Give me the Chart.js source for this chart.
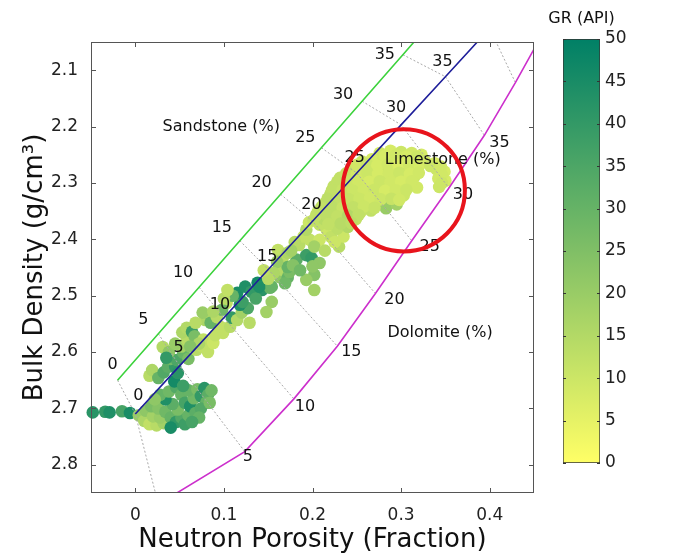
<!DOCTYPE html>
<html><head><meta charset="utf-8">
<script src="https://cdn.jsdelivr.net/npm/chart.js@4"></script>
<style>
html,body{margin:0;padding:0;background:#fff;}
#wrap{position:relative;width:698px;height:558px;overflow:hidden;}
#main{position:absolute;left:0;top:0;}
#cbar{position:absolute;left:540px;top:0;}
</style></head><body>
<div id="wrap">
<canvas id="main" width="698" height="558"></canvas>
<canvas id="cbar" width="158" height="558"></canvas>
</div>
<script>
// ---------- axis ticks ----------
const xTickValues = [0, 0.1, 0.2, 0.3, 0.4];
const xTickLabels = ['0', '0.1', '0.2', '0.3', '0.4'];
const yTickValues = [2.1, 2.2, 2.3, 2.4, 2.5, 2.6, 2.7, 2.8];
const yTickLabels = ['2.1', '2.2', '2.3', '2.4', '2.5', '2.6', '2.7', '2.8'];
const grMin = 0, grMax = 50;

// ---------- lithology lines (porosity 0..40 %) ----------
const porosityLabels = ['0', '5', '10', '15', '20', '25', '30', '35', '40'];
const sandNphi = [-0.020, 0.026, 0.072, 0.118, 0.164, 0.210, 0.256, 0.302, 0.348];
const sandRhob = [2.650, 2.5675, 2.485, 2.4025, 2.320, 2.2375, 2.155, 2.0725, 1.990];
const limeNphi = [0.000, 0.050, 0.100, 0.150, 0.200, 0.250, 0.300, 0.350, 0.400];
const limeRhob = [2.710, 2.6245, 2.539, 2.4535, 2.368, 2.2825, 2.197, 2.1115, 2.026];
const dolNphi = [0.026, 0.1236, 0.179, 0.228, 0.271, 0.312, 0.354, 0.394, 0.429, 0.462];
const dolRhob = [2.870, 2.7765, 2.683, 2.5895, 2.496, 2.4025, 2.309, 2.2155, 2.122, 2.0285];

const lithoNames = ['Sandstone (%)', 'Limestone (%)', 'Dolomite (%)'];
const lithoNameX = [0.097, 0.347, 0.344];
const lithoNameY = [2.201, 2.259, 2.566];

const circleX = 0.303, circleY = 2.313, circleR = 0.069;

// ---------- well data: [NPHI, RHOB, GR] ----------
const rowPts = [[-0.048,2.707,42],[-0.034,2.706,40],[-0.029,2.707,44],[-0.015,2.705,36],[-0.006,2.708,45]];
const basePts = [
 [0.004,2.712,20],[0.010,2.722,16],[0.016,2.728,12],[0.024,2.730,14],[0.032,2.726,18],
 [0.012,2.704,22],[0.020,2.714,18],[0.028,2.716,20],[0.018,2.696,26],[0.026,2.700,24],
 [0.034,2.706,28],[0.040,2.716,30],[0.046,2.724,40],[0.040,2.734,45],[0.052,2.716,34],
 [0.056,2.728,38],[0.060,2.712,30],[0.048,2.702,26],[0.042,2.692,32],[0.034,2.684,44],
 [0.028,2.676,30],[0.022,2.684,22],[0.038,2.670,28],[0.046,2.662,34],[0.044,2.652,46],
 [0.052,2.676,30],[0.056,2.690,36],[0.062,2.696,44],[0.068,2.708,32],[0.066,2.682,28],
 [0.060,2.668,30],[0.070,2.666,26],[0.074,2.678,40],[0.078,2.664,42],[0.082,2.676,32],
 [0.086,2.668,28],[0.080,2.690,30],[0.074,2.700,34],[0.072,2.716,30],[0.064,2.724,36],
 [0.054,2.660,38],[0.084,2.690,26],[0.016,2.642,14]
];
const lowerBandPts = [
 [0.019,2.632,16],[0.026,2.646,30],[0.032,2.636,34],[0.037,2.626,32],[0.045,2.626,40],
 [0.048,2.637,42],[0.040,2.612,28],[0.047,2.614,35],[0.031,2.591,15],[0.038,2.600,22],
 [0.054,2.601,30],[0.060,2.612,26],[0.052,2.590,18],[0.058,2.578,14],[0.053,2.565,16],
 [0.058,2.557,15],[0.064,2.564,38],[0.067,2.572,26],[0.069,2.596,14],[0.076,2.590,12],
 [0.082,2.600,12],[0.077,2.578,12],[0.072,2.585,16],[0.088,2.584,10],[0.090,2.570,12],
 [0.099,2.566,12],[0.096,2.555,12],[0.107,2.555,14],[0.079,2.543,16],[0.076,2.530,20],
 [0.085,2.548,30],[0.092,2.538,14],[0.103,2.513,12],[0.109,2.539,40],[0.115,2.543,15],
 [0.129,2.548,14],[0.120,2.530,18],[0.127,2.522,35],[0.118,2.516,44],[0.121,2.511,38],
 [0.115,2.495,45],[0.124,2.484,44],[0.131,2.493,40],[0.138,2.477,46],[0.143,2.490,42],
 [0.136,2.505,36],[0.152,2.486,30],[0.154,2.511,20],[0.148,2.529,18],[0.163,2.467,22],
 [0.166,2.454,15],[0.110,2.500,30],[0.098,2.525,28],[0.088,2.528,16],[0.068,2.548,14],
 [0.045,2.585,20],[0.035,2.610,40],[0.062,2.590,24],[0.100,2.505,14],[0.104,2.490,12]
];
const upperBandPts = [
 [0.140,2.484,44],[0.154,2.484,30],[0.172,2.468,30],[0.169,2.478,28],[0.182,2.436,32],
 [0.174,2.458,26],[0.193,2.428,38],[0.199,2.433,40],[0.202,2.463,24],[0.208,2.442,22],
 [0.161,2.419,12],[0.166,2.436,14],[0.172,2.424,16],[0.185,2.410,14],[0.197,2.401,12],
 [0.208,2.401,10],[0.216,2.383,10],[0.219,2.366,8],[0.222,2.342,10],[0.208,2.374,12],
 [0.202,2.413,18],[0.172,2.449,30],[0.193,2.472,20],[0.202,2.490,18],[0.160,2.440,20],
 [0.178,2.446,24],[0.186,2.455,28],[0.190,2.395,12],[0.180,2.405,14],[0.176,2.420,18],
 [0.193,2.383,15],[0.200,2.448,22],[0.214,2.420,14],[0.221,2.396,12],[0.230,2.413,14],
 [0.225,2.405,10],[0.235,2.395,10],[0.156,2.460,16],[0.150,2.470,14],[0.145,2.455,12],
 [0.196,2.370,10],[0.205,2.355,12],[0.212,2.340,10]
];
const yellowPts = [
 [0.276,2.247,9],[0.288,2.243,8],[0.300,2.245,10],[0.312,2.247,9],[0.323,2.250,8],
 [0.256,2.262,10],[0.267,2.258,8],[0.279,2.260,9],[0.291,2.258,7],[0.303,2.261,8],
 [0.315,2.259,10],[0.327,2.262,9],[0.338,2.265,8],
 [0.244,2.276,11],[0.256,2.277,9],[0.268,2.274,8],[0.280,2.276,10],[0.292,2.275,8],
 [0.304,2.276,9],[0.316,2.274,7],[0.340,2.276,10],[0.349,2.280,8],
 [0.231,2.291,12],[0.243,2.290,10],[0.255,2.292,9],[0.267,2.290,8],[0.279,2.292,10],
 [0.291,2.289,9],[0.303,2.291,8],[0.315,2.289,10],[0.342,2.292,9],[0.350,2.296,8],
 [0.224,2.306,12],[0.236,2.305,11],[0.248,2.307,9],[0.260,2.305,10],[0.272,2.306,8],
 [0.284,2.304,9],[0.296,2.306,10],[0.308,2.305,8],[0.318,2.308,9],[0.343,2.307,10],
 [0.220,2.321,13],[0.232,2.320,11],[0.244,2.322,10],[0.256,2.320,9],[0.268,2.322,11],
 [0.280,2.320,9],[0.292,2.321,8],[0.303,2.322,10],
 [0.214,2.336,12],[0.226,2.334,14],[0.238,2.336,11],[0.250,2.335,10],[0.262,2.337,12],
 [0.274,2.335,9],[0.286,2.334,10],[0.283,2.345,20],[0.295,2.338,18],
 [0.206,2.351,11],[0.218,2.349,13],[0.230,2.352,12],[0.242,2.350,14],[0.254,2.352,11],
 [0.266,2.349,12],
 [0.201,2.366,12],[0.213,2.364,14],[0.225,2.367,13],[0.237,2.366,16],[0.249,2.364,12],
 [0.228,2.381,13],[0.240,2.378,15]
];
const yellowFillPts = [
 [0.282,2.252,8],[0.294,2.251,9],[0.306,2.253,8],[0.318,2.254,10],
 [0.250,2.268,9],[0.262,2.267,10],[0.273,2.269,8],[0.285,2.267,9],[0.297,2.268,7],
 [0.309,2.267,9],[0.321,2.268,8],[0.333,2.270,10],[0.345,2.271,9],
 [0.238,2.283,11],[0.250,2.284,9],[0.262,2.282,10],[0.274,2.284,8],[0.286,2.283,9],
 [0.298,2.282,10],[0.310,2.284,8],[0.320,2.282,9],[0.346,2.286,9],
 [0.228,2.298,12],[0.240,2.297,10],[0.252,2.299,9],[0.264,2.298,8],[0.276,2.297,10],
 [0.288,2.299,9],[0.300,2.298,8],[0.312,2.297,9],[0.346,2.300,10],
 [0.222,2.313,12],[0.234,2.312,11],[0.246,2.314,10],[0.258,2.313,9],[0.270,2.312,10],
 [0.282,2.314,8],[0.294,2.313,9],[0.306,2.312,10],
 [0.217,2.328,13],[0.229,2.327,12],[0.241,2.329,11],[0.253,2.328,10],[0.265,2.327,9],
 [0.277,2.329,10],[0.289,2.328,11],[0.298,2.330,9],
 [0.210,2.343,12],[0.222,2.342,13],[0.234,2.344,11],[0.246,2.343,12],[0.258,2.342,10],
 [0.270,2.344,11],
 [0.204,2.358,12],[0.216,2.357,13],[0.228,2.359,12],[0.240,2.358,15],[0.252,2.357,12],
 [0.218,2.373,12],[0.232,2.372,14],[0.244,2.371,13]
];

// ---------- helpers ----------
function grColor(v) { // yellow (low GR) -> teal green (high GR)
  const t = Math.max(0, Math.min(1, (v - grMin) / (grMax - grMin)));
  const r = Math.round(255 * (1 - t)), g = Math.round(255 * (1 - 0.5 * t)), b = 102;
  return 'rgb(' + r + ',' + g + ',' + b + ')';
}
const FONT = '"DejaVu Sans", Verdana, sans-serif';
Chart.defaults.font.family = FONT;
Chart.defaults.color = '#111';

const wellPts = [].concat(rowPts, basePts, lowerBandPts, upperBandPts, yellowPts, yellowFillPts);

function lineDs(nx, ry, color, width, dash, order) {
  return { data: nx.map((v, i) => ({ x: v, y: ry[i] })), showLine: true, borderColor: color,
    borderWidth: width, borderDash: dash, pointRadius: 0, fill: false, tension: 0, order: order };
}
const datasets = [{
  data: wellPts.map(p => ({ x: p[0], y: p[1] })),
  pointBackgroundColor: wellPts.map(p => grColor(p[2])),
  pointBorderWidth: 0, pointRadius: 6.3, showLine: false, clip: false, order: 10
}];
for (let i = 0; i < sandNphi.length; i++) {
  datasets.push(lineDs([sandNphi[i], limeNphi[i], dolNphi[i]], [sandRhob[i], limeRhob[i], dolRhob[i]], '#a8a8a8', 1, [2, 2], 3));
}
datasets.push(lineDs(sandNphi, sandRhob, '#3cd23c', 1.6, [], 1));
datasets.push(lineDs(limeNphi, limeRhob, '#1e1e9a', 1.6, [], 1));
datasets.push(lineDs(dolNphi, dolRhob, '#cc2fcc', 1.6, [], 1));

const sandOff = [[-5,-15],[-15,-14],[-16,-14],[-18,-13],[-19,-11],[-16,-10],[-19,-6],[-18,0],[-18,0]];
const limeOff = [[3,-18],[-1,-18],[-4,-13],[-1,-13],[-1,-16],[-2,-15],[-5,-17],[-3,-15],[-3,-15]];
const dolOff = [[3,5],[3,5],[11,8],[14,6],[19,6],[18,6],[14,7],[15,8],[15,8]];

const frameTicks = {
  id: 'frameTicks',
  afterDatasetsDraw(chart) {
    const { ctx, chartArea: a, scales: { x, y } } = chart;
    ctx.save();
    ctx.strokeStyle = '#555'; ctx.lineWidth = 1;
    ctx.strokeRect(a.left + 0.5, a.top + 0.5, a.right - a.left - 1, a.bottom - a.top - 1);
    const L = 5;
    ctx.beginPath();
    x.ticks.forEach(t => { const px = Math.round(x.getPixelForValue(t.value)) + 0.5;
      ctx.moveTo(px, a.bottom); ctx.lineTo(px, a.bottom - L); ctx.moveTo(px, a.top); ctx.lineTo(px, a.top + L); });
    y.ticks.forEach(t => { const py = Math.round(y.getPixelForValue(t.value)) + 0.5;
      ctx.moveTo(a.left, py); ctx.lineTo(a.left + L, py); ctx.moveTo(a.right, py); ctx.lineTo(a.right - L, py); });
    ctx.stroke();
    ctx.restore();
  }
};
const annot = {
  id: 'annot',
  afterDatasetsDraw(chart) {
    const { ctx, chartArea: a, scales: { x, y } } = chart;
    ctx.save();
    ctx.font = '16px ' + FONT; ctx.fillStyle = '#111'; ctx.textAlign = 'center'; ctx.textBaseline = 'middle';
    const put = (nx, ry, txt, off) => {
      const px = x.getPixelForValue(nx) + off[0], py = y.getPixelForValue(ry) + off[1];
      if (px < a.left + 4 || px > a.right - 4 || py < a.top + 6 || py > a.bottom - 6) return;
      ctx.fillText(txt, px, py);
    };
    for (let i = 0; i < 8; i++) {
      put(sandNphi[i], sandRhob[i], porosityLabels[i], sandOff[i]);
      put(limeNphi[i], limeRhob[i], porosityLabels[i], limeOff[i]);
      put(dolNphi[i], dolRhob[i], porosityLabels[i], dolOff[i]);
    }
    lithoNames.forEach((t, i) => put(lithoNameX[i], lithoNameY[i], t, [0, 0]));
    const cx = x.getPixelForValue(circleX), cy = y.getPixelForValue(circleY);
    const r = x.getPixelForValue(circleX + circleR) - cx;
    ctx.beginPath(); ctx.lineWidth = 4; ctx.strokeStyle = '#e8141c';
    ctx.arc(cx, cy, r, 0, 2 * Math.PI); ctx.stroke();
    ctx.restore();
  }
};

new Chart(document.getElementById('main'), {
  type: 'scatter',
  data: { datasets: datasets },
  options: {
    responsive: false, animation: false, events: [],
    layout: { padding: { top: 42, right: 164, left: 0, bottom: 0 } },
    plugins: { legend: { display: false }, tooltip: { enabled: false } },
    scales: {
      x: {
        type: 'linear', min: -0.05, max: 0.45,
        afterBuildTicks: s => { s.ticks = xTickValues.map(v => ({ value: v })); },
        afterFit: s => { s.height = 65; },
        ticks: { padding: 12, color: '#222', font: { size: 17 }, callback: (v, i) => xTickLabels[i] },
        grid: { display: false, drawTicks: false }, border: { display: false },
        title: { display: true, text: 'Neutron Porosity (Fraction)', color: '#111', font: { size: 26 }, padding: { top: 0, bottom: 2 } }
      },
      y: {
        type: 'linear', reverse: true, min: 2.05, max: 2.85,
        afterBuildTicks: s => { s.ticks = yTickValues.map(v => ({ value: v })); },
        afterFit: s => { s.width = 91; },
        ticks: { padding: 13, color: '#222', font: { size: 17 }, callback: (v, i) => yTickLabels[i] },
        grid: { display: false, drawTicks: false }, border: { display: false },
        title: { display: true, text: 'Bulk Density (g/cm³)', color: '#111', font: { size: 26 }, padding: { top: 20, bottom: 0 } }
      }
    }
  },
  plugins: [frameTicks, annot]
});

// ---------- colour bar ----------
const cbarDeco = {
  id: 'cbarDeco',
  afterDraw(chart) {
    const { ctx, chartArea: a, scales: { y } } = chart;
    ctx.save();
    ctx.strokeStyle = '#333'; ctx.lineWidth = 1;
    ctx.beginPath();
    y.ticks.forEach(t => { const py = Math.round(y.getPixelForValue(t.value)) + 0.5;
      ctx.moveTo(a.left, py); ctx.lineTo(a.left + 3, py); ctx.moveTo(a.right, py); ctx.lineTo(a.right - 3, py); });
    ctx.stroke();
    ctx.font = '16px ' + FONT; ctx.fillStyle = '#111'; ctx.textAlign = 'center'; ctx.textBaseline = 'middle';
    ctx.fillText('GR (API)', (a.left + a.right) / 2, 19);
    ctx.restore();
  }
};
new Chart(document.getElementById('cbar'), {
  type: 'bar',
  data: { labels: ['GR'], datasets: [{
    data: [[grMin, grMax]],
    backgroundColor: c => {
      const ca = c.chart.chartArea; if (!ca) return '#ccc';
      const g = c.chart.ctx.createLinearGradient(0, ca.bottom, 0, ca.top);
      for (let i = 0; i <= 10; i++) g.addColorStop(i / 10, grColor(grMin + (grMax - grMin) * i / 10));
      return g;
    },
    borderColor: '#333', borderWidth: 1, borderSkipped: false, barPercentage: 1, categoryPercentage: 1
  }] },
  options: {
    responsive: false, animation: false, events: [],
    layout: { padding: { top: 39, bottom: 95, left: 23, right: 0 } },
    plugins: { legend: { display: false }, tooltip: { enabled: false } },
    scales: {
      x: { display: false },
      y: { position: 'right', min: grMin, max: grMax, afterFit: s => { s.width = 98; },
        ticks: { stepSize: 5, padding: 5, color: '#222', font: { size: 17 } },
        grid: { display: false, drawTicks: false }, border: { display: false } }
    }
  },
  plugins: [cbarDeco]
});
</script>
</body></html>
